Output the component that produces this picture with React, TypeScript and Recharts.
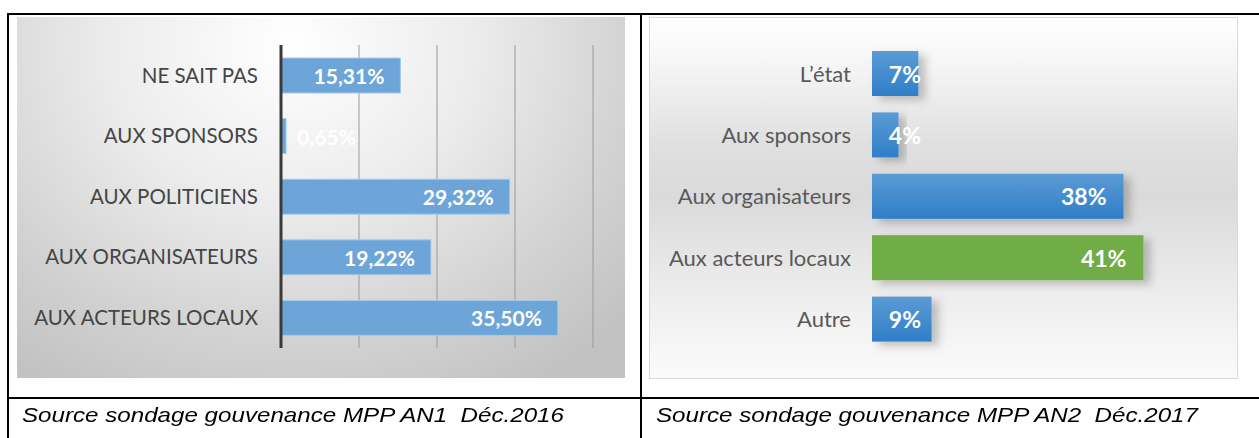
import React from "react";
import { BarChart, Bar, XAxis, YAxis, CartesianGrid, ReferenceLine } from "recharts";

// ---- Data ----
const leftCategories = ["NE SAIT PAS", "AUX SPONSORS", "AUX POLITICIENS", "AUX ORGANISATEURS", "AUX ACTEURS LOCAUX"];
const leftValues = [15.31, 0.65, 29.32, 19.22, 35.5];
const leftTicks = [0, 10, 20, 30, 40];

const rightCategories = ["L\u2019état", "Aux sponsors", "Aux organisateurs", "Aux acteurs locaux", "Autre"];
const rightValues = [7, 4, 38, 41, 9];
const rightHighlight = [false, false, false, true, false];

const captionLeft = "Source sondage gouvenance MPP AN1  Déc.2016";
const captionRight = "Source sondage gouvenance MPP AN2  Déc.2017";

const leftData = leftCategories.map((name, i) => ({ name, value: leftValues[i] }));
const rightData = rightCategories.map((name, i) => ({ name, value: rightValues[i], hl: rightHighlight[i] }));

const labelFont = "Lato, 'Open Sans', sans-serif";

const fmtLeft = (v: number) => v.toFixed(2).replace(".", ",") + "%";
const fmtRight = (v: number) => `${v}%`;

function makeLabel(fmt: (v: number) => string, fontSize: number, charW: number, off: number, minStart: number) {
  return (props: any) => {
    const { x, y, width, height, value } = props;
    const txt = fmt(Number(value));
    const estW = txt.length * charW;
    const end = Math.max(x + width - off, x + minStart + estW);
    return (
      <text
        x={end}
        y={y + height / 2}
        textAnchor="end"
        dominantBaseline="central"
        fill="#ffffff"
        fontWeight={700}
        fontSize={fontSize}
        fontFamily={labelFont}
      >
        {txt}
      </text>
    );
  };
}

const RightBarShape = (props: any) => {
  const { x, y, width, height, payload } = props;
  return (
    <rect
      x={x}
      y={y}
      width={width}
      height={height}
      fill={payload.hl ? "#70ad47" : "url(#blueGrad)"}
      filter="url(#barShadow)"
    />
  );
};

const captionStyle: React.CSSProperties = {
  position: "absolute",
  top: 402,
  fontFamily: "'Liberation Sans', Arial, sans-serif",
  fontStyle: "italic",
  fontSize: 21,
  color: "#000",
  whiteSpace: "pre",
  lineHeight: "26px",
  transform: "scaleX(1.15)",
  transformOrigin: "left center",
};

export default function App() {
  return (
    <div style={{ position: "absolute", left: 0, top: 0, width: 1259, height: 438, background: "#ffffff", overflow: "hidden" }}>
      {/* table lines */}
      <div style={{ position: "absolute", left: 7, top: 13, width: 1252, height: 2, background: "#000" }} />
      <div style={{ position: "absolute", left: 7, top: 13, width: 2, height: 425, background: "#000" }} />
      <div style={{ position: "absolute", left: 640, top: 13, width: 2, height: 425, background: "#000" }} />
      <div style={{ position: "absolute", left: 7, top: 397, width: 1252, height: 2, background: "#000" }} />

      {/* left panel background */}
      <div
        style={{
          position: "absolute",
          left: 17,
          top: 17,
          width: 608,
          height: 361,
          background: "radial-gradient(ellipse 75% 110% at 45% 8%, #ffffff 0%, #ececec 40%, #d2d2d2 75%, #c2c2c2 100%)",
        }}
      />
      <div style={{ position: "absolute", left: 17, top: 17 }}>
        <BarChart
          width={608}
          height={361}
          layout="vertical"
          data={leftData}
          margin={{ top: 28, right: 32, bottom: 30, left: 0 }}
          barSize={35}
        >
          <CartesianGrid horizontal={false} stroke="#9a9a9a" strokeWidth={1} />
          <XAxis type="number" domain={[0, 40]} ticks={leftTicks} hide />
          <YAxis
            type="category"
            dataKey="name"
            width={264}
            axisLine={false}
            tickLine={false}
            tickSize={0}
            tickMargin={23}
            tick={{ fill: "#454545", fontSize: 20.5, fontFamily: labelFont }}
          />
          <Bar
            dataKey="value"
            fill="#6ea5d9"
            stroke="#a8cbeb"
            strokeWidth={1}
            isAnimationActive={false}
            label={makeLabel(fmtLeft, 21, 12, 16, 15)}
          />
          <ReferenceLine x={0} stroke="#3a3a3a" strokeWidth={3} />
        </BarChart>
      </div>

      {/* right panel background */}
      <div
        style={{
          position: "absolute",
          left: 649,
          top: 17,
          width: 587,
          height: 360,
          border: "1px solid #d9d9d9",
          background: "linear-gradient(to bottom, #ffffff 0%, #f6f6f6 12%, #e0e0e0 35%, #dadada 50%, #ececec 75%, #fbfbfb 100%)",
        }}
      />
      <div style={{ position: "absolute", left: 649, top: 17 }}>
        <BarChart
          width={588}
          height={361}
          layout="vertical"
          data={rightData}
          margin={{ top: 26, right: 34, bottom: 28, left: 0 }}
          barSize={45}
        >
          <defs>
            <linearGradient id="blueGrad" x1="0" y1="0" x2="0" y2="1">
              <stop offset="0%" stopColor="#5b9bd5" />
              <stop offset="100%" stopColor="#2f7ec8" />
            </linearGradient>
            <filter id="barShadow" x="-20%" y="-30%" width="150%" height="170%">
              <feDropShadow dx="7" dy="4" stdDeviation="4" floodColor="#000000" floodOpacity="0.22" />
            </filter>
          </defs>
          <XAxis type="number" domain={[0, 50]} hide />
          <YAxis
            type="category"
            dataKey="name"
            width={223}
            axisLine={false}
            tickLine={false}
            tickSize={0}
            tickMargin={21}
            tick={{ fill: "#595959", fontSize: 22, fontFamily: labelFont }}
          />
          <Bar
            dataKey="value"
            isAnimationActive={false}
            shape={RightBarShape}
            label={makeLabel(fmtRight, 23, 16.5, 17, 16)}
          />
        </BarChart>
      </div>

      {/* captions */}
      <div style={{ ...captionStyle, left: 22 }}>{captionLeft}</div>
      <div style={{ ...captionStyle, left: 656 }}>{captionRight}</div>
    </div>
  );
}
